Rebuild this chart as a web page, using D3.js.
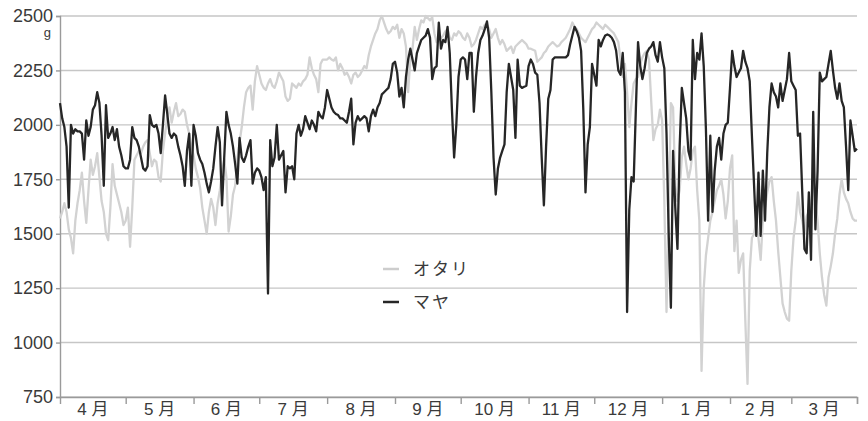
<!DOCTYPE html>
<html>
<head>
<meta charset="utf-8">
<script src="https://cdn.jsdelivr.net/npm/d3@7"></script>
<style>
  html, body { margin: 0; padding: 0; background: #ffffff; }
  svg { display: block; }
  text { font-family: "Liberation Sans", "Noto Sans CJK JP", sans-serif; fill: #3a3a3a; }
</style>
</head>
<body>
<svg id="chart" width="868" height="421"></svg>
<script>
// Daily body weight (g), 1 April to 31 March
const startDate = new Date(2009, 3, 1);
const endDate = new Date(2010, 2, 31);

const seriesNames = ["オタリ", "マヤ"];

const maya = [
  // 4月
  2100,2030,1990,1900,1620,2000,1960,1980,1970,1970,1960,1840,2020,1950,1990,2070,2090,2150,2100,1950,1720,2090,1940,1960,1990,1930,1980,1900,1860,1810,
  // 5月
  1800,1800,1840,1990,1940,1930,1900,1850,1800,1790,1810,2045,2000,1990,2000,1960,1870,2000,2135,2050,1960,1940,1960,1950,1900,1860,1810,1720,1880,1960,1720,
  // 6月
  2000,1950,1870,1840,1820,1780,1730,1690,1740,1800,1900,1990,1920,1630,1850,2060,2000,1960,1900,1820,1730,1940,1850,1830,1860,1900,1930,1730,1780,1800,
  // 7月
  1790,1760,1700,1760,1225,1930,1810,1850,2000,1840,1860,1880,1690,1810,1800,1810,1750,1960,2000,1950,1980,2040,2010,1980,2020,2000,1970,2060,2040,2030,2080,
  // 8月
  2160,2120,2080,2060,2050,2045,2030,2030,2020,2010,2060,2120,1910,2010,2040,2020,2030,2040,2030,1970,2040,2070,2040,2080,2100,2140,2150,2160,2170,2210,2280,
  // 9月
  2290,2240,2130,2170,2080,2220,2300,2350,2300,2250,2330,2360,2390,2400,2410,2440,2400,2210,2260,2270,2470,2350,2390,2380,2450,2330,2070,1850,2000,2220,
  // 10月
  2300,2310,2300,2210,2330,2330,2060,2220,2330,2390,2410,2440,2475,2400,2150,1850,1680,1800,1850,1880,1910,2150,2280,2220,2160,1940,2300,2180,2170,2175,2180,
  // 11月
  2270,2300,2280,2240,2230,2100,1850,1630,1900,2120,2160,2300,2310,2310,2310,2310,2310,2310,2320,2370,2410,2450,2430,2400,2340,2070,1690,1910,1990,2280,
  // 12月
  2230,2180,2390,2360,2390,2410,2415,2410,2400,2380,2340,2250,2230,2330,2150,1140,1610,1760,1740,2070,2380,2270,2210,2260,2330,2350,2360,2380,2320,2290,2380,
  // 1月
  2310,2260,1960,1500,1160,1880,1620,1430,1900,2170,2100,2030,1880,1840,2390,2210,2330,2300,2420,2270,1980,1560,1950,1600,1790,1900,1940,1840,1960,2000,2010,
  // 2月
  2170,2340,2270,2220,2240,2260,2340,2290,2260,2200,1950,1720,1490,1780,1490,1790,1560,1870,2080,2190,2150,2130,2080,2190,2110,2160,2210,2330,
  // 3月
  2200,2180,2160,1950,1960,1690,1430,1410,1690,1380,2060,1520,1790,2240,2200,2210,2220,2280,2340,2250,2170,2120,2190,2110,2080,1900,1700,2020,1950,1880,1890
];

const otari = [
  // 4月
  1570,1600,1640,1600,1520,1480,1410,1560,1640,1700,1780,1650,1550,1700,1840,1770,1810,1870,1760,1650,1600,1500,1470,1620,1820,1720,1680,1640,1600,1540,
  // 5月
  1560,1620,1440,1620,1840,1860,1880,1870,1900,1920,1930,1870,1810,1840,1830,1760,1740,1880,1960,2040,2080,2010,2060,2100,2040,2050,2070,2060,2000,1960,1900,
  // 6月
  1860,1800,1760,1710,1620,1560,1500,1600,1660,1620,1540,1640,1700,1780,1840,1760,1510,1580,1680,1720,1840,1920,1990,2080,2150,2170,2180,2070,2200,2270,
  // 7月
  2230,2190,2170,2160,2190,2210,2180,2170,2200,2240,2220,2200,2130,2110,2120,2190,2180,2170,2190,2180,2200,2210,2230,2310,2260,2230,2210,2150,2280,2300,2300,
  // 8月
  2300,2310,2300,2295,2310,2250,2280,2260,2230,2240,2220,2190,2230,2240,2220,2230,2250,2270,2260,2320,2360,2390,2420,2440,2480,2500,2470,2440,2420,2430,2450,
  // 9月
  2440,2460,2400,2440,2420,2360,2150,2300,2350,2450,2390,2440,2480,2470,2500,2490,2480,2495,2420,2380,2390,2400,2410,2430,2440,2400,2390,2420,2410,2430,
  // 10月
  2420,2400,2390,2420,2400,2360,2370,2390,2420,2450,2440,2460,2460,2440,2400,2420,2440,2400,2370,2390,2370,2340,2350,2360,2330,2360,2370,2380,2390,2380,2370,
  // 11月
  2350,2350,2345,2340,2290,2300,2310,2330,2340,2360,2370,2380,2370,2360,2365,2380,2390,2400,2420,2440,2470,2450,2440,2420,2400,2390,2380,2400,2420,2440,
  // 12月
  2450,2470,2460,2450,2440,2460,2450,2440,2430,2420,2400,2380,2300,2220,2280,2150,1990,2100,2190,2210,2220,2280,2310,2330,2340,2300,2110,1930,1980,2000,2070,
  // 1月
  2020,1650,1140,1600,2100,2080,1720,1650,1700,1850,1900,1820,1750,1800,1880,1900,1700,1560,870,1250,1400,1480,1560,1600,1650,1700,1720,1750,1680,1570,1650,
  // 2月
  1800,1860,1420,1560,1320,1380,1410,1100,810,1330,1480,1500,1560,1480,1380,1560,1620,1690,1740,1760,1650,1560,1420,1300,1180,1140,1110,1100,
  // 3月
  1330,1480,1560,1690,1600,1560,1500,1580,1600,1620,1790,1650,1560,1410,1300,1220,1170,1300,1350,1410,1500,1570,1680,1750,1690,1660,1640,1600,1570,1560,1560
];

const yTicks = [750, 1000, 1250, 1500, 1750, 2000, 2250, 2500];
const monthLabels = ["4 月", "5 月", "6 月", "7 月", "8 月", "9 月", "10 月", "11 月", "12 月", "1 月", "2 月", "3 月"];
const unitLabel = "g";

const dates = d3.range(maya.length).map(i => d3.timeDay.offset(startDate, i));

const svg = d3.select("#chart");
const plotLeft = 60, plotRight = 857, plotTop = 16, plotBottom = 397;

const x = d3.scaleTime().domain([startDate, endDate]).range([plotLeft, plotRight]);
const y = d3.scaleLinear().domain([750, 2500]).range([plotBottom, plotTop]);

// horizontal gridlines
svg.append("g")
  .selectAll("line")
  .data(yTicks)
  .join("line")
  .attr("x1", plotLeft).attr("x2", plotRight)
  .attr("y1", d => y(d)).attr("y2", d => y(d))
  .attr("stroke", "#c6c6c6")
  .attr("stroke-width", 1.4);

// y axis
const yAxis = svg.append("g")
  .attr("transform", `translate(${plotLeft},0)`)
  .call(d3.axisLeft(y).tickValues(yTicks).tickSize(4).tickPadding(3).tickFormat(d3.format("d")));
yAxis.select(".domain").attr("stroke", "#9a9a9a").attr("stroke-width", 1.4);
yAxis.selectAll(".tick line").attr("stroke", "#9a9a9a").attr("stroke-width", 1.4);
yAxis.selectAll(".tick text")
  .attr("font-size", 18)
  .attr("fill", "#3a3a3a")
  .attr("font-family", "'Liberation Sans', sans-serif");

// unit, tucked under the top tick label
svg.append("text")
  .attr("x", 51).attr("y", 37)
  .attr("text-anchor", "end")
  .attr("font-size", 13)
  .text(unitLabel);

// x axis with month boundary ticks
const monthStarts = d3.timeMonth.range(startDate, d3.timeDay.offset(endDate, 1));
const boundaries = monthStarts.slice(1).concat([endDate]);
const xAxis = svg.append("g")
  .attr("transform", `translate(0,${plotBottom})`)
  .call(d3.axisBottom(x).tickValues(boundaries).tickSize(7).tickFormat(""));
xAxis.select(".domain").attr("stroke", "#9a9a9a").attr("stroke-width", 1.4);
xAxis.selectAll(".tick line").attr("stroke", "#9a9a9a").attr("stroke-width", 1.4);

// month labels centred in each month
svg.append("g")
  .selectAll("text")
  .data(monthStarts)
  .join("text")
  .attr("x", (d, i) => (x(d) + x(i < 11 ? monthStarts[i + 1] : endDate)) / 2)
  .attr("y", 415)
  .attr("text-anchor", "middle")
  .attr("font-size", 17)
  .text((d, i) => monthLabels[i]);

const line = d3.line()
  .x((d, i) => x(dates[i]))
  .y(d => y(d));

svg.append("path")
  .datum(otari)
  .attr("fill", "none")
  .attr("stroke", "#d2d2d2")
  .attr("stroke-width", 2.3)
  .attr("stroke-linejoin", "round")
  .attr("d", line);

svg.append("path")
  .datum(maya)
  .attr("fill", "none")
  .attr("stroke", "#262626")
  .attr("stroke-width", 2.3)
  .attr("stroke-linejoin", "round")
  .attr("d", line);

// legend
const legend = svg.append("g");
const legendItems = [
  { name: seriesNames[0], color: "#cdcdcd", y: 269 },
  { name: seriesNames[1], color: "#262626", y: 302 }
];
legend.selectAll("line")
  .data(legendItems)
  .join("line")
  .attr("x1", 383).attr("x2", 399)
  .attr("y1", d => d.y).attr("y2", d => d.y)
  .attr("stroke", d => d.color)
  .attr("stroke-width", 2.5);
legend.selectAll("text")
  .data(legendItems)
  .join("text")
  .attr("x", 413)
  .attr("y", d => d.y)
  .attr("dy", "0.36em")
  .attr("font-size", 17)
  .attr("letter-spacing", 2)
  .attr("font-family", "'Noto Sans CJK JP', sans-serif")
  .text(d => d.name);
</script>
</body>
</html>
